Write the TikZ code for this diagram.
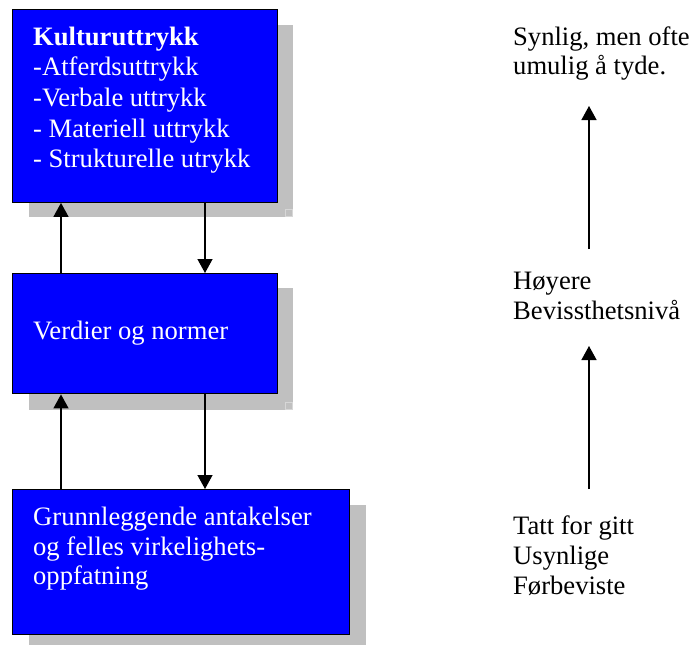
\documentclass[tikz,border=0pt]{standalone}
\usepackage{fontspec}
\setmainfont{Liberation Serif}
\usetikzlibrary{arrows.meta}
\begin{document}
\begin{tikzpicture}[x=1pt,y=-1pt,
  shadowbox/.style={fill={rgb,255:red,192;green,192;blue,192}, draw=none},
  bluebox/.style={fill={rgb,255:red,0;green,0;blue,255}, draw=black, line width=1.4pt},
  btext/.style={anchor=base west, inner sep=0pt, text=white, font=\fontsize{26.6}{30.5}\selectfont},
  rtext/.style={anchor=base west, inner sep=0pt, text=black, font=\fontsize{26.6}{30.5}\selectfont},
  arr/.style={draw=black, line width=1.4pt, -{Triangle[length=14pt,width=15pt]}},
  tinysq/.style={draw={rgb,255:red,215;green,215;blue,215}, line width=0.6pt}
]
\useasboundingbox (0,0) rectangle (691,645);

% shadows
\fill[shadowbox] (29,25) rectangle (293,217);
\draw[tinysq] (285,209) rectangle (292.5,216.5);
\fill[shadowbox] (29,288) rectangle (293,410);
\draw[tinysq] (285,402) rectangle (292.5,409.5);
\fill[shadowbox] (29,505) rectangle (366,645);

% boxes
\node[bluebox, inner sep=0pt, minimum width=265pt, minimum height=193pt, anchor=north west] (b1) at (12,8.5) {};
\node[bluebox, inner sep=0pt, minimum width=265pt, minimum height=120pt, anchor=north west] (b2) at (12,273) {};
\node[bluebox, inner sep=0pt, minimum width=337pt, minimum height=145pt, anchor=north west] (b3) at (12,489) {};

% box texts
\node[btext, font=\fontsize{26.6}{30.5}\selectfont\bfseries] (k1) at (33,45) {Kulturuttrykk};
\node[btext] (k2) at (33,75.5) {-Atferdsuttrykk};
\node[btext] (k3) at (33,106) {-Verbale uttrykk};
\node[btext] (k4) at (33,137) {- Materiell uttrykk};
\node[btext] (k5) at (33,167.5) {- Strukturelle utrykk};

\node[btext] (v1) at (33,339) {Verdier og normer};

\node[btext] (g1) at (33,525) {Grunnleggende antakelser};
\node[btext] (g2) at (33,555) {og felles virkelighets-};
\node[btext] (g3) at (33,584.5) {oppfatning};

% left connectors
\coordinate (xl) at (61,0);
\coordinate (xr) at (205,0);
\draw[arr] (xl |- b2.north) -- (xl |- b1.south);
\draw[arr] (xr |- b1.south) -- (xr |- b2.north);
\draw[arr] (xl |- b3.north) -- (xl |- b2.south);
\draw[arr] (xr |- b2.south) -- (xr |- b3.north);

% right texts
\node[rtext] (s1) at (513,45) {Synlig, men ofte};
\node[rtext] (s2) at (513,74) {umulig å tyde.};
\node[rtext] (h1) at (513,289) {Høyere};
\node[rtext] (h2) at (513,319) {Bevissthetsnivå};
\node[rtext] (t1) at (513,534) {Tatt for gitt};
\node[rtext] (t2) at (513,564) {Usynlige};
\node[rtext] (t3) at (513,594.5) {Førbeviste};

% right arrows
\coordinate (ra1s) at (589,249);
\coordinate (ra1e) at (589,106);
\coordinate (ra2s) at (589,489);
\coordinate (ra2e) at (589,346);
\draw[arr] (ra1s) -- (ra1e);
\draw[arr] (ra2s) -- (ra2e);
\end{tikzpicture}
\end{document}
